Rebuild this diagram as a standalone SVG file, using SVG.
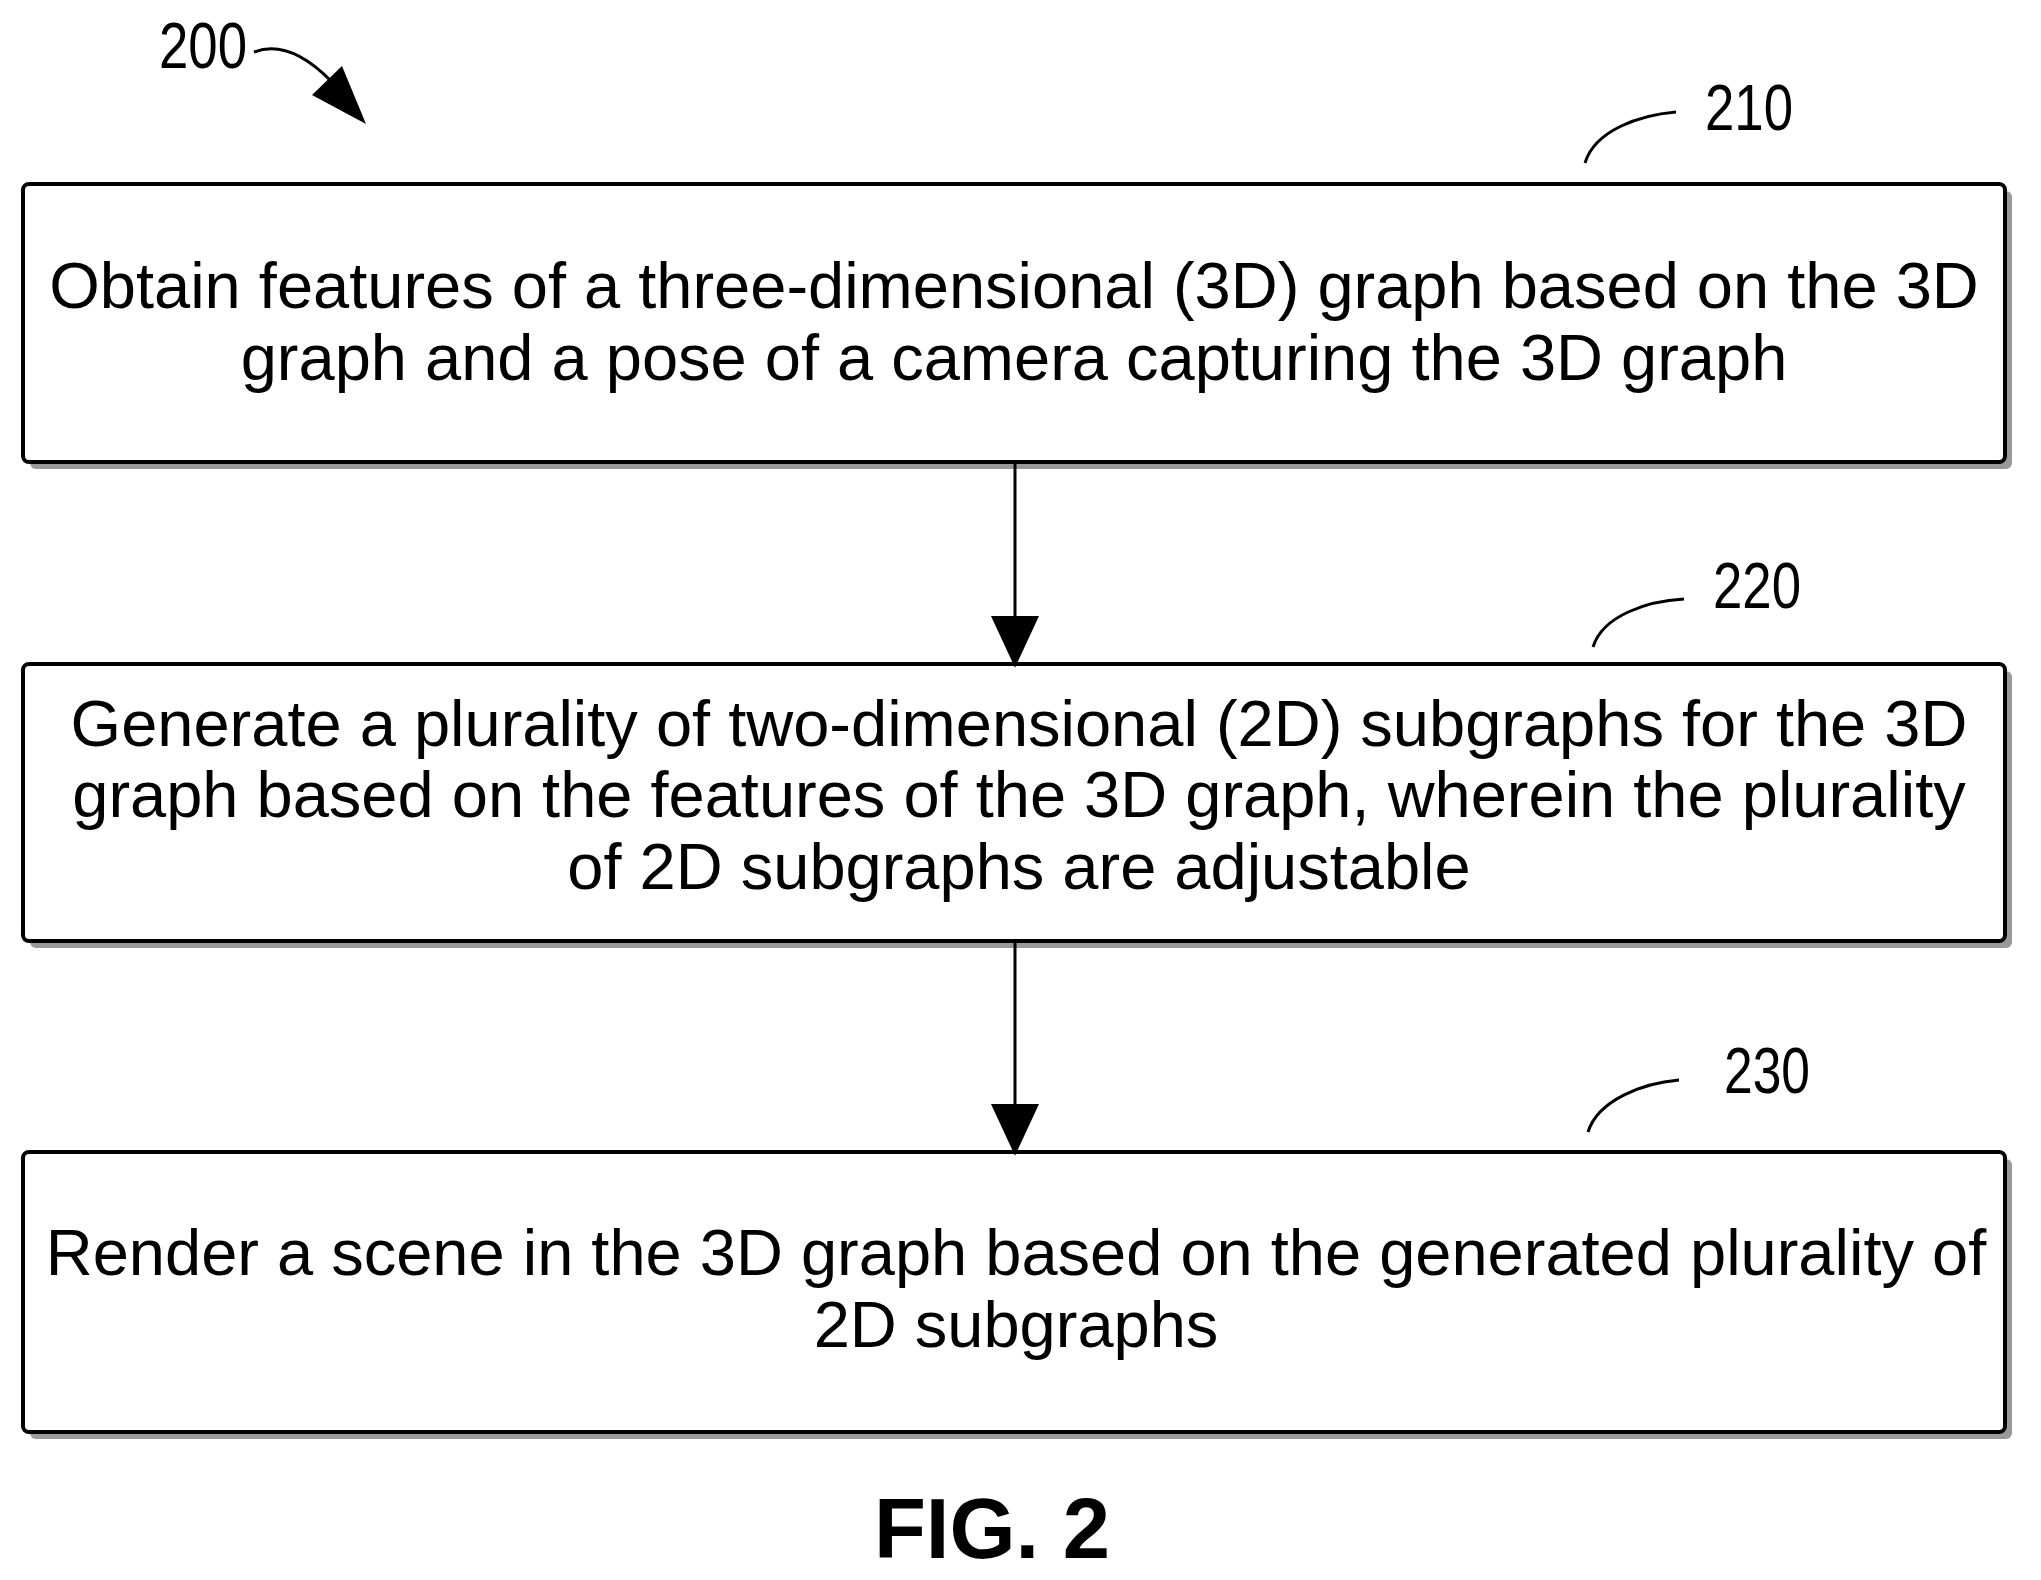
<svg xmlns="http://www.w3.org/2000/svg" width="2041" height="1580" viewBox="0 0 2041 1580">
<style>
.box{fill:#fff;stroke:#000;stroke-width:4}
.sh{fill:#999}
.t{font-family:"Liberation Sans",Arial,sans-serif;font-size:65px;text-anchor:middle;fill:#000}
.n{font-family:"Liberation Sans",Arial,sans-serif;font-size:64px;fill:#000}
.c{fill:none;stroke:#000;stroke-width:3}
.ln{stroke:#000;stroke-width:3}
</style>
<defs>
<marker id="ah" markerWidth="52" markerHeight="56" refX="52" refY="26" orient="auto" markerUnits="userSpaceOnUse" viewBox="0 0 56 52"><path d="M0,0 L56,26 L0,52 Z" fill="#000"/></marker>
</defs>
<rect width="2041" height="1580" fill="#fff"/>
<g id="label200">
<text class="n" x="159" y="68" textLength="88" lengthAdjust="spacingAndGlyphs">200</text>
<path class="c" d="M254,52 C280,42 305,55 330,80" stroke-width="5"/>
<path d="M312,95 L342,66 L366,124 Z" fill="#000"/>
</g>
<g id="node210">
<rect class="sh" x="30" y="191" width="1982" height="278" rx="6"/>
<rect class="box" x="23" y="184" width="1982" height="278" rx="6"/>
<text class="t" x="1014" y="308">Obtain features of a three-dimensional (3D) graph based on the 3D</text>
<text class="t" x="1014" y="380">graph and a pose of a camera capturing the 3D graph</text>
<path class="c" d="M1585,163 C1595,130 1640,115 1676,112"/>
<text class="n" x="1705" y="130" textLength="88" lengthAdjust="spacingAndGlyphs">210</text>
</g>
<g id="node220">
<rect class="sh" x="30" y="671" width="1982" height="277" rx="6"/>
<rect class="box" x="23" y="664" width="1982" height="277" rx="6"/>
<text class="t" x="1019" y="746">Generate a plurality of two-dimensional (2D) subgraphs for the 3D</text>
<text class="t" x="1019" y="817">graph based on the features of the 3D graph, wherein the plurality</text>
<text class="t" x="1019" y="889">of 2D subgraphs are adjustable</text>
<path class="c" d="M1593,647 C1603,615 1648,601 1684,599"/>
<text class="n" x="1713" y="608" textLength="88" lengthAdjust="spacingAndGlyphs">220</text>
</g>
<g id="node230">
<rect class="sh" x="30" y="1159" width="1982" height="280" rx="6"/>
<rect class="box" x="23" y="1152" width="1982" height="280" rx="6"/>
<text class="t" x="1016" y="1275">Render a scene in the 3D graph based on the generated plurality of</text>
<text class="t" x="1016" y="1347">2D subgraphs</text>
<path class="c" d="M1588,1132 C1598,1100 1643,1083 1679,1080"/>
<text class="n" x="1724" y="1093" textLength="86" lengthAdjust="spacingAndGlyphs">230</text>
</g>
<g id="connectors">
<line class="ln" x1="1015" y1="462" x2="1015" y2="664" marker-end="url(#ah)"/>
<line class="ln" x1="1015" y1="941" x2="1015" y2="1152" marker-end="url(#ah)"/>
</g>
<text x="992" y="1558" font-family="Liberation Sans,Arial,sans-serif" font-weight="bold" font-size="85" text-anchor="middle">FIG. 2</text>
</svg>
